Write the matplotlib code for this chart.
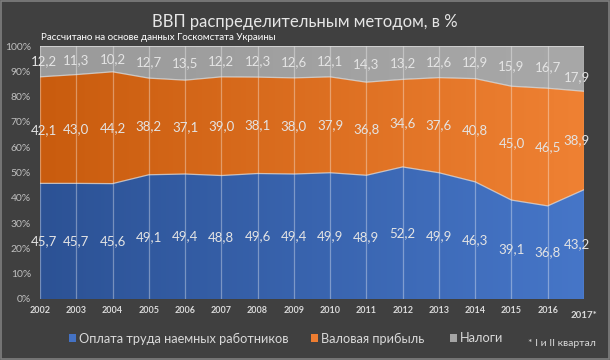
import numpy as np
import matplotlib
matplotlib.use("Agg")
import matplotlib.pyplot as plt
from matplotlib.colors import LinearSegmentedColormap
from matplotlib.patches import PathPatch, Rectangle

years = ["2002", "2003", "2004", "2005", "2006", "2007", "2008", "2009",
         "2010", "2011", "2012", "2013", "2014", "2015", "2016", "2017*"]
wages = [45.7, 45.7, 45.6, 49.1, 49.4, 48.8, 49.6, 49.4, 49.9, 48.9, 52.2, 49.9, 46.3, 39.1, 36.8, 43.2]
profit = [42.1, 43.0, 44.2, 38.2, 37.1, 39.0, 38.1, 38.0, 37.9, 36.8, 34.6, 37.6, 40.8, 45.0, 46.5, 38.9]
taxes = [12.2, 11.3, 10.2, 12.7, 13.5, 12.2, 12.3, 12.6, 12.1, 14.3, 13.2, 12.6, 12.9, 15.9, 16.7, 17.9]
series_names = ["Оплата труда наемных работников", "Валовая прибыль", "Налоги"]

FONT = ["Lato", "Open Sans", "DejaVu Sans"]
plt.rcParams["font.family"] = FONT

BG = "#404040"
grads = [("#2C5295", "#4676C8"), ("#C95C0E", "#EF8133"), ("#9A9A9A", "#A8A8A8")]
legend_cols = ["#4472C4", "#ED7D31", "#A5A5A5"]
LABEL = "#E4E4E4"

fig = plt.figure(figsize=(6.1, 3.6), dpi=100, facecolor=BG)
fig.patches.append(Rectangle((0.002, 0.003), 0.996, 0.994, transform=fig.transFigure,
                             fill=False, edgecolor="#7F7F7F", linewidth=1.2))
ax = fig.add_axes([40 / 610, 1 - 299 / 360, (584 - 40) / 610, (299 - 46) / 360])
ax.set_facecolor(BG)

x = np.arange(len(years))
vals = [np.array(wages), np.array(profit), np.array(taxes)]
bottom = np.zeros(len(years))
for k, (v, (c0, c1)) in enumerate(zip(vals, grads)):
    top = bottom + v
    poly = ax.fill_between(x, bottom, top, facecolor="none", edgecolor="none")
    path = poly.get_paths()[0]
    patch = PathPatch(path, transform=ax.transData, facecolor="none", edgecolor="none")
    ax.add_patch(patch)
    cmap = LinearSegmentedColormap.from_list("g", [c0, c1])
    grad = np.linspace(0, 1, 256).reshape(1, -1)
    im = ax.imshow(grad, extent=[x[0], x[-1], 0, 100], aspect="auto", cmap=cmap,
                   origin="lower", zorder=1, interpolation="bilinear")
    im.set_clip_path(patch)
    ax.plot(x, top, color="#E8E8E8", lw=0.9, alpha=0.7, zorder=3)
    for i in range(len(years)):
        xi = float(x[i])
        if i == 0:
            xi += 0.1
        elif i == len(years) - 1:
            xi -= 0.2
        yi = bottom[i] + v[i] / 2
        if i == len(years) - 1 and k == 2:
            yi -= 3.5
        ax.text(xi, yi, f"{v[i]:.1f}".replace(".", ","),
                ha="center", va="center", color=LABEL, fontsize=9.5,
                zorder=5, clip_on=False)
    bottom = top

for xi in x:
    ax.axvline(xi, color="white", lw=0.9, alpha=0.35, zorder=2)
ax.axhline(100, color="#D0D0D0", lw=0.8, alpha=0.6, zorder=2)

ax.set_xlim(0, len(years) - 1)
ax.set_ylim(0, 100)
ax.set_yticks(np.arange(0, 101, 10))
ax.set_yticklabels([f"{t}%" for t in range(0, 101, 10)], color="#BFBFBF", fontsize=7.5)
ax.set_xticks(x)
ax.set_xticklabels(years, color="#D9D9D9", fontsize=6.5, fontweight="bold")
lbl = ax.get_xticklabels()[-1]
lbl.set_y(-0.02)
lbl.set_fontsize(7)
ax.tick_params(axis="y", length=0, pad=6.5)
ax.tick_params(axis="x", length=0, pad=5)
for s in ax.spines.values():
    s.set_visible(False)

fig.text(0.5, 1 - 22 / 360, "ВВП распределительным методом, в %", ha="center", va="center",
         color="#E6E6E6", fontsize=12)
fig.text(41 / 610, 1 - 38 / 360, "Рассчитано на основе данных Госкомстата Украины",
         ha="left", va="center", color="#FFFFFF", fontsize=7)

leg_items = [(69, series_names[0], legend_cols[0]), (311, series_names[1], legend_cols[1]),
             (450, series_names[2], legend_cols[2])]
for px, name, col in leg_items:
    fig.patches.append(Rectangle((px / 610, 1 - 342 / 360), 7 / 610, 8 / 360,
                                 transform=fig.transFigure, facecolor=col, edgecolor="none"))
    fig.text((px + 10) / 610, 1 - 338.5 / 360, name, ha="left", va="center",
             color="#D9D9D9", fontsize=9.2)
fig.text(528 / 610, 1 - 343 / 360, "* I и II квартал", ha="left", va="center",
         color="#D9D9D9", fontsize=7.5)

fig.savefig("out.png", dpi=100, facecolor=BG)
